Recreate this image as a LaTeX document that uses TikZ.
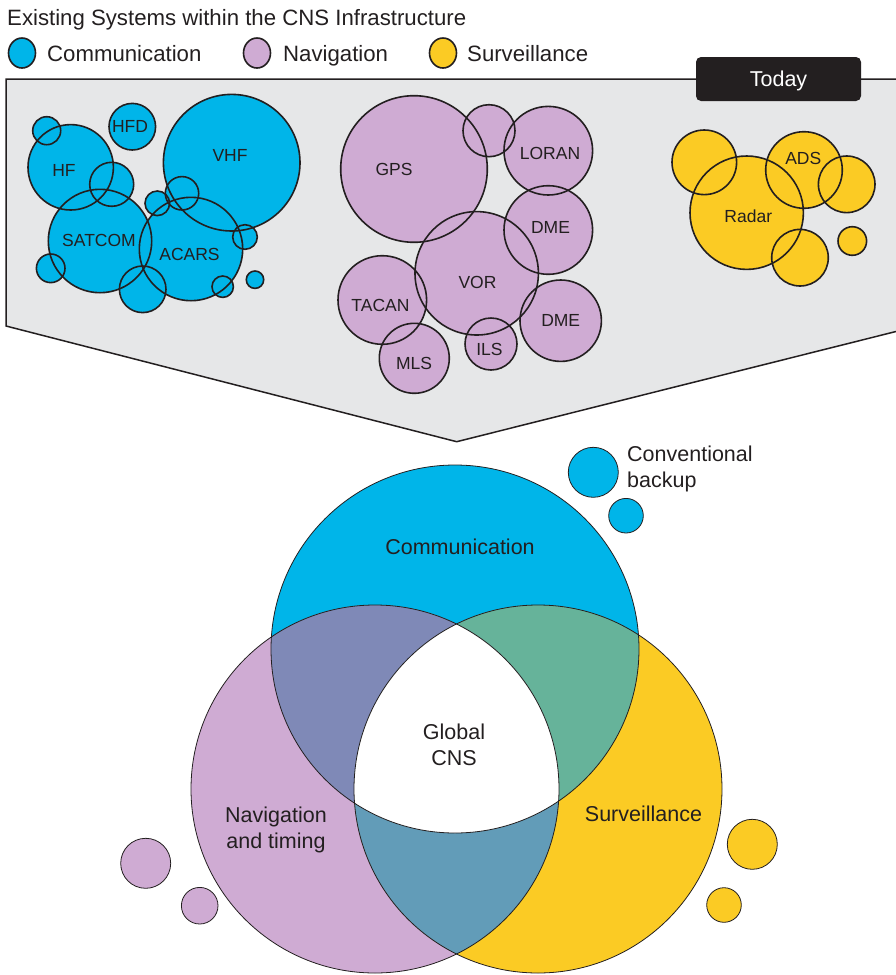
\documentclass[tikz,border=0pt]{standalone}
\usepackage{fontspec}
\setmainfont{Liberation Sans}
\definecolor{commc}{HTML}{00B5E9}
\definecolor{navc}{HTML}{CFABD3}
\definecolor{survc}{HTML}{FBCB24}
\definecolor{cnc}{HTML}{7F89B7}
\definecolor{csc}{HTML}{66B39A}
\definecolor{nsc}{HTML}{629CB8}
\definecolor{panelc}{HTML}{E6E7E8}
\definecolor{ink}{HTML}{231F20}
\begin{document}
\begin{tikzpicture}[x=1pt,y=-1pt,
  bubble/.style={draw=ink, line width=1.6pt},
  lbl/.style={text=ink, font=\fontsize{17.5}{20}\selectfont, inner sep=0pt},
  venntxt/.style={text=ink, font=\fontsize{21.5}{26}\selectfont, inner sep=0pt, align=center},
  legtxt/.style={text=ink, font=\fontsize{22.2}{26}\selectfont, inner sep=0pt, anchor=base west},
  vline/.style={draw=ink, line width=0.8pt}]
\useasboundingbox (0,0) rectangle (895,975);

% title and legend
\node[legtxt] (title) at (7,25) {Existing Systems within the CNS Infrastructure};
\draw[bubble, fill=commc] (22,53) ellipse[x radius=13.5pt, y radius=15pt];
\draw[bubble, fill=navc] (257,53) ellipse[x radius=13.5pt, y radius=15pt];
\draw[bubble, fill=survc] (443,53) ellipse[x radius=13.5pt, y radius=15pt];
\node[legtxt] (lcomm) at (47,61) {Communication};
\node[legtxt] (lnav) at (283,61) {Navigation};
\node[legtxt] (lsurv) at (467,61) {Surveillance};

% panel
\filldraw[fill=panelc, draw=ink, line width=1.5pt] (896,79) -- (6,79) -- (6,326) -- (456.7,441.7) -- (896,331.5);
\node[fill=ink, rounded corners=5pt, minimum width=165pt, minimum height=44pt, inner sep=0pt,
      text=white, font=\fontsize{21.5}{26}\selectfont, text height=15.5pt, text depth=0pt] (today) at (778.5,79) {Today};

% bubbles
\def\commlist{46.7/130.7/14, 70.7/167.3/42.7, 132.3/126.7/23.3, 231.7/162.7/68.3, 111.7/184.3/22, 100/241/51.7, 50.7/268.3/14.3, 157.3/203.3/12.3, 182/193.3/16.7, 191/249/51.7, 245/237/12.3, 142.7/289.3/23.3, 222.7/286.7/10.7, 255/279.7/8.7}
\def\navlist{414/169/73.3, 489/130.7/26, 548.3/150.7/44.3, 548.3/230/44.3, 476.7/273.3/61.7, 382.3/300/44.3, 414.3/358.3/35, 491/344/26, 560.7/320.7/40.7}
\def\survlist{704.3/162.3/32.3, 746.7/212.7/56.7, 804/170/38.3, 846.7/184.3/28.3, 800/257.7/28.3, 852.3/241/14.3}
\foreach \x/\y/\r in \commlist {\fill[commc] (\x,\y) circle[radius=\r pt];}
\foreach \x/\y/\r in \commlist {\draw[bubble] (\x,\y) circle[radius=\r pt];}
\foreach \x/\y/\r in \navlist {\fill[navc] (\x,\y) circle[radius=\r pt];}
\foreach \x/\y/\r in \navlist {\draw[bubble] (\x,\y) circle[radius=\r pt];}
\foreach \x/\y/\r in \survlist {\fill[survc] (\x,\y) circle[radius=\r pt];}
\foreach \x/\y/\r in \survlist {\draw[bubble] (\x,\y) circle[radius=\r pt];}

\node[lbl] (hfd) at (130,126.7) {HFD};
\node[lbl] (hf) at (64,170) {HF};
\node[lbl] (vhf) at (230,155) {VHF};
\node[lbl] (satcom) at (99,240) {SATCOM};
\node[lbl] (acars) at (189.5,254) {ACARS};
\node[lbl] (gps) at (394,169.5) {GPS};
\node[lbl] (loran) at (550,153) {LORAN};
\node[lbl] (dmea) at (550.5,227) {DME};
\node[lbl] (vor) at (477.5,282.5) {VOR};
\node[lbl] (tacan) at (380.5,305) {TACAN};
\node[lbl] (mls) at (414,363.5) {MLS};
\node[lbl] (ils) at (489.5,349.5) {ILS};
\node[lbl] (dmeb) at (560.7,320) {DME};
\node[lbl] (radar) at (748.3,216.7) {Radar};
\node[lbl] (ads) at (803.3,158.3) {ADS};

% Venn
\def\pcomm{(455,649) circle[radius=184pt]}
\def\pnav{(375,789) circle[radius=184pt]}
\def\psurv{(538,789) circle[radius=184pt]}
\fill[commc] \pcomm;
\fill[navc] \pnav;
\fill[survc] \psurv;
\begin{scope}\clip \pcomm; \fill[cnc] \pnav; \fill[csc] \psurv; \end{scope}
\begin{scope}\clip \pnav; \fill[nsc] \psurv; \end{scope}
\begin{scope}\clip \pcomm; \clip \pnav; \fill[white] \psurv; \end{scope}
\draw[vline] \pcomm;
\draw[vline] \pnav;
\draw[vline] \psurv;

% satellite bubbles
\draw[vline, fill=commc] (593.3,472.3) circle[radius=25pt];
\draw[vline, fill=commc] (626,515.7) circle[radius=17.3pt];
\draw[vline, fill=navc] (145.7,863.3) circle[radius=25pt];
\draw[vline, fill=navc] (199.7,905.7) circle[radius=18.3pt];
\draw[vline, fill=survc] (752.3,844.3) circle[radius=25pt];
\draw[vline, fill=survc] (724,905) circle[radius=17.3pt];

\node[venntxt, anchor=north west, align=left] (conv) at (627,446) {Conventional\\backup};
\node[venntxt] (vcomm) at (460,547) {Communication};
\node[venntxt] (vglob) at (454,744.5) {Global\\CNS};
\node[venntxt] (vnav) at (276,829.5) {Navigation\\and timing};
\node[venntxt] (vsurv) at (643.5,814) {Surveillance};
\end{tikzpicture}
\end{document}
